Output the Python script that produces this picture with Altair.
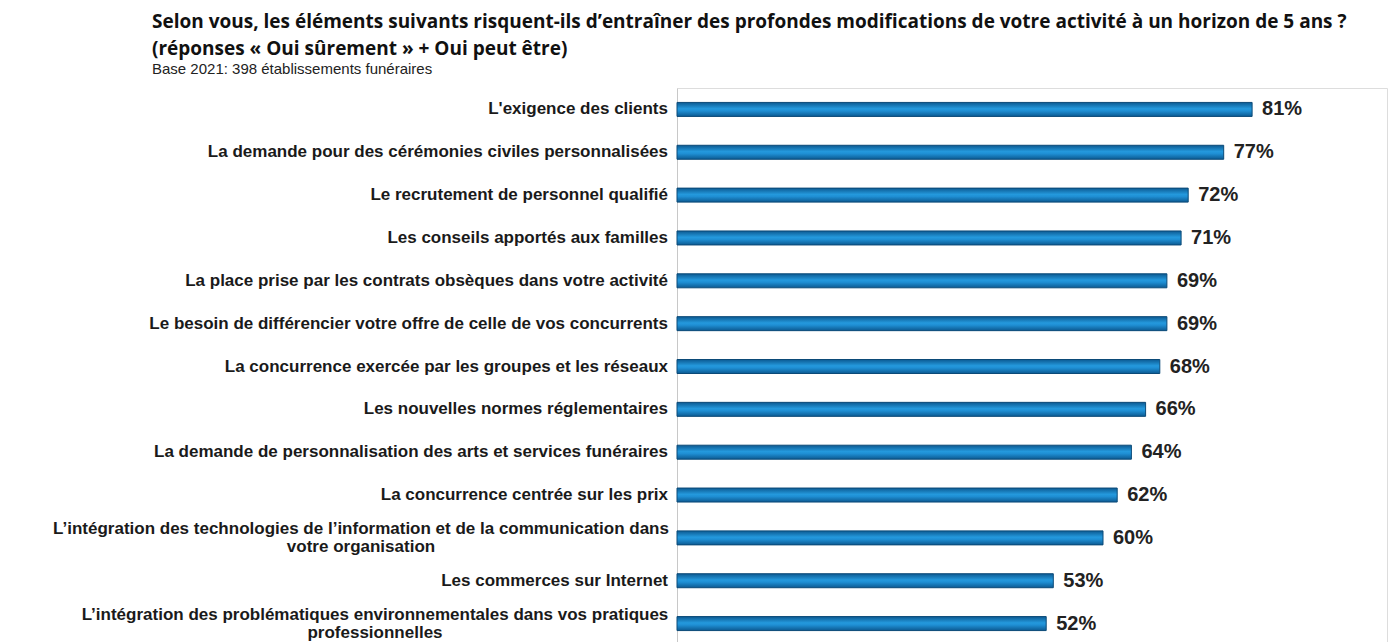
import altair as alt
import pandas as pd

categories = [
    "L'exigence des clients",
    "La demande pour des cérémonies civiles personnalisées",
    "Le recrutement de personnel qualifié",
    "Les conseils apportés aux familles",
    "La place prise par les contrats obsèques dans votre activité",
    "Le besoin de différencier votre offre de celle de vos concurrents",
    "La concurrence exercée par les groupes et les réseaux",
    "Les nouvelles normes réglementaires",
    "La demande de personnalisation des arts et services funéraires",
    "La concurrence centrée sur les prix",
    "L\u2019intégration des technologies de l\u2019information et de la communication dans\nvotre organisation",
    "Les commerces sur Internet",
    "L\u2019intégration des problématiques environnementales dans vos pratiques\nprofessionnelles",
]
values = [81, 77, 72, 71, 69, 69, 68, 66, 64, 62, 60, 53, 52]
value_labels = ["81%", "77%", "72%", "71%", "69%", "69%", "68%", "66%", "64%", "62%", "60%", "53%", "52%"]

df = pd.DataFrame({
    "cat": categories,
    "val": values,
    "lab": value_labels,
    "idx": list(range(len(categories))),
    "multi": ["\n" in c for c in categories],
})

y_enc = alt.Y("cat:N", sort=categories, title=None,
              scale=alt.Scale(paddingInner=0.0, paddingOuter=0.0),
              axis=alt.Axis(labels=False, ticks=False, grid=False, domain=True,
                            domainColor="#c8c8c8", domainWidth=1))
x_enc = alt.X("val:Q", scale=alt.Scale(domain=[0, 100]), axis=None, title=None)

base = alt.Chart(df)

bar_fill = alt.LinearGradient(
    gradient="linear",
    stops=[alt.GradientStop(color="#0c5a92", offset=0),
           alt.GradientStop(color="#2499dd", offset=0.45),
           alt.GradientStop(color="#1f8fd4", offset=0.6),
           alt.GradientStop(color="#0c5a92", offset=1)],
    x1=0, x2=0, y1=0, y2=1,
)

bars = base.mark_bar(size=14, color=bar_fill, stroke="#0b4a78", strokeWidth=1).encode(
    x=x_enc, y=y_enc
)

vals = base.mark_text(align="left", baseline="middle", dx=10, font="Liberation Sans",
                      fontWeight="bold", fontSize=20, color="#222222").encode(
    x=x_enc, y=y_enc, text="lab:N"
)

label_style = dict(baseline="middle", font="Liberation Sans", fontWeight="bold",
                   fontSize=17, color="#1a1a1a")

single = base.transform_filter("!datum.multi").mark_text(align="right", **label_style).encode(
    x=alt.value(-9), y=y_enc, text="cat:N"
)

multi_a = base.transform_filter("datum.idx == 10").mark_text(
    align="center", lineBreak="\n", lineHeight=18, dy=-9, **label_style).encode(
    x=alt.value(-316), y=y_enc, text="cat:N"
)
multi_b = base.transform_filter("datum.idx == 12").mark_text(
    align="center", lineBreak="\n", lineHeight=18, dy=-9, **label_style).encode(
    x=alt.value(-302), y=y_enc, text="cat:N"
)

chart = alt.layer(bars, vals, single, multi_a, multi_b).properties(
    width=710,
    height=557,
    title=alt.TitleParams(
        text=["Selon vous, les éléments suivants risquent-ils d\u2019entraîner des profondes modifications de votre activité à un horizon de 5 ans ?",
              "(réponses « Oui sûrement » + Oui peut être)"],
        subtitle="Base 2021: 398 établissements funéraires",
        anchor="start",
        frame="group",
        dx=-525,
        offset=11,
        font="Open Sans",
        fontSize=19,
        fontWeight="bold",
        lineHeight=27,
        color="#111111",
        subtitleFont="Liberation Sans",
        subtitleFontSize=15,
        subtitleColor="#222222",
        subtitlePadding=3,
    ),
    autosize=alt.AutoSizeParams(type="none"),
    padding={"left": 677, "top": 88, "right": 7, "bottom": 0},
).configure_view(stroke=None).configure(background="white")

chart.save("out.html", embed_options={"renderer": "svg", "actions": False})
